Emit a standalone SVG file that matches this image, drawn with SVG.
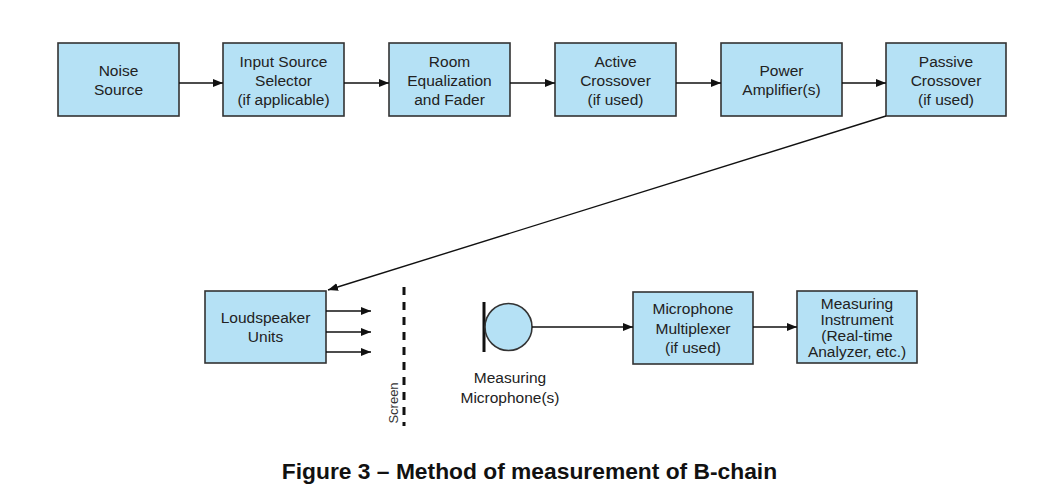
<svg xmlns="http://www.w3.org/2000/svg" width="1061" height="499" viewBox="0 0 1061 499">
<defs>
<marker id="ah" viewBox="0 0 10 8" refX="10" refY="4" markerWidth="10" markerHeight="8" markerUnits="userSpaceOnUse" orient="auto">
<path d="M0,0 L10,4 L0,8 Z" fill="#111"/>
</marker>
<style>
.box{fill:#b5e1f5;stroke:#333;stroke-width:1.6}
.t{font-family:"Liberation Sans",Arial,sans-serif;font-size:15.5px;fill:#222;text-anchor:middle}
.c{stroke:#111;stroke-width:1.4;fill:none;marker-end:url(#ah)}
.title{font-family:"Liberation Sans",Arial,sans-serif;font-size:22.8px;font-weight:bold;fill:#111;text-anchor:middle}
</style>
</defs>
<rect width="1061" height="499" fill="#fff"/>
<g id="noise-source"><rect class="box" x="58" y="43" width="121" height="73"/><text class="t" x="118.5" y="76">Noise</text><text class="t" x="118.5" y="95">Source</text></g>
<g id="input-source-selector"><rect class="box" x="223" y="43" width="121" height="73"/><text class="t" x="283.5" y="67">Input Source</text><text class="t" x="283.5" y="86">Selector</text><text class="t" x="283.5" y="105">(if applicable)</text></g>
<g id="room-eq"><rect class="box" x="389" y="43" width="121" height="73"/><text class="t" x="449.5" y="67">Room</text><text class="t" x="449.5" y="86">Equalization</text><text class="t" x="449.5" y="105">and Fader</text></g>
<g id="active-crossover"><rect class="box" x="555" y="43" width="121" height="73"/><text class="t" x="615.5" y="67">Active</text><text class="t" x="615.5" y="86">Crossover</text><text class="t" x="615.5" y="105">(if used)</text></g>
<g id="power-amp"><rect class="box" x="721" y="43" width="121" height="73"/><text class="t" x="781.5" y="76">Power</text><text class="t" x="781.5" y="95">Amplifier(s)</text></g>
<g id="passive-crossover"><rect class="box" x="886" y="43" width="120" height="73"/><text class="t" x="946" y="67">Passive</text><text class="t" x="946" y="86">Crossover</text><text class="t" x="946" y="105">(if used)</text></g>
<g id="loudspeaker"><rect class="box" x="205" y="291" width="121" height="72"/><text class="t" x="265.5" y="323">Loudspeaker</text><text class="t" x="265.5" y="342">Units</text></g>
<g id="screen"><line x1="404" y1="287" x2="404" y2="426" stroke="#111" stroke-width="3" stroke-dasharray="8,7"/><text transform="translate(398,403) rotate(-90)" font-family="&quot;Liberation Sans&quot;,Arial,sans-serif" font-size="13" fill="#333" text-anchor="middle">Screen</text></g>
<g id="microphone"><line x1="484" y1="302" x2="484" y2="352" stroke="#111" stroke-width="3"/><circle cx="508.5" cy="327" r="23.5" fill="#b5e1f5" stroke="#333" stroke-width="1.6"/><text class="t" x="510" y="383">Measuring</text><text class="t" x="510" y="403">Microphone(s)</text></g>
<g id="mic-mux"><rect class="box" x="633" y="292" width="120" height="72"/><text class="t" x="693" y="314">Microphone</text><text class="t" x="693" y="334">Multiplexer</text><text class="t" x="693" y="353">(if used)</text></g>
<g id="measuring-instrument"><rect class="box" x="797" y="291" width="120" height="72"/><text class="t" x="857" y="309">Measuring</text><text class="t" x="857" y="325">Instrument</text><text class="t" x="857" y="341">(Real-time</text><text class="t" x="857" y="357">Analyzer, etc.)</text></g>
<g id="connectors">
<line class="c" x1="179" y1="83" x2="223" y2="83"/>
<line class="c" x1="344" y1="83" x2="389" y2="83"/>
<line class="c" x1="510" y1="83" x2="555" y2="83"/>
<line class="c" x1="676" y1="83" x2="721" y2="83"/>
<line class="c" x1="842" y1="83" x2="886" y2="83"/>
<line class="c" x1="886" y1="116" x2="328" y2="290"/>
<line class="c" x1="326" y1="311" x2="371" y2="311"/>
<line class="c" x1="326" y1="332" x2="371" y2="332"/>
<line class="c" x1="326" y1="352" x2="371" y2="352"/>
<line class="c" x1="532" y1="327" x2="633" y2="327"/>
<line class="c" x1="753" y1="327" x2="797" y2="327"/>
</g>
<text class="title" x="529.5" y="479">Figure 3 – Method of measurement of B-chain</text>
</svg>
